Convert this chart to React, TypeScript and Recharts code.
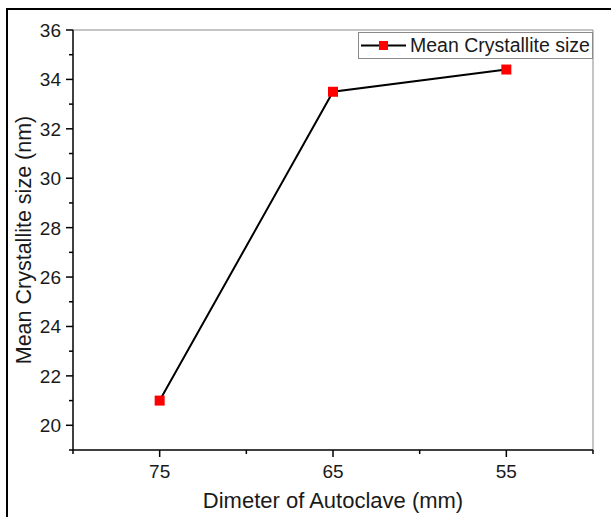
import React from "react";
import {
  LineChart,
  Line,
  XAxis,
  YAxis,
  Legend,
  ReferenceLine,
  Label,
} from "recharts";

const diameters = [75, 65, 55];
const crystalliteSize = [21.0, 33.5, 34.4];

const xTicks = [80, 75, 70, 65, 60, 55, 50];
const xLabeled = [75, 65, 55];
const yTicks = [19, 20, 21, 22, 23, 24, 25, 26, 27, 28, 29, 30, 31, 32, 33, 34, 35, 36];

const data = diameters.map((d, i) => ({ diameter: d, size: crystalliteSize[i] }));

const FONT = "'Liberation Sans', Arial, sans-serif";
const TEXT = "#1a1a1a";

const XTick = (props: any) => {
  const { x, y, payload } = props;
  const major = xLabeled.includes(payload.value);
  return (
    <g>
      <line x1={x} y1={y} x2={x} y2={y + (major ? 7 : 4)} stroke="#000" strokeWidth={1.5} />
      {major && (
        <text x={x} y={y + 28} textAnchor="middle" fontSize={19} fill={TEXT} fontFamily={FONT}>
          {payload.value}
        </text>
      )}
    </g>
  );
};

const YTick = (props: any) => {
  const { x, y, payload } = props;
  const major = payload.value % 2 === 0;
  return (
    <g>
      <line x1={x} y1={y} x2={x - (major ? 7 : 4)} y2={y} stroke="#000" strokeWidth={1.5} />
      {major && (
        <text x={x - 12} y={y + 7} textAnchor="end" fontSize={19} fill={TEXT} fontFamily={FONT}>
          {payload.value}
        </text>
      )}
    </g>
  );
};

const Square = (props: any) => {
  const { cx, cy, index } = props;
  return <rect key={index} x={cx - 5} y={cy - 5} width={10} height={10} fill="#ff0000" />;
};

const LegendBox = () => (
  <div
    style={{
      width: 233,
      height: 25,
      border: "1px solid #8a8a8a",
      background: "#fff",
      display: "flex",
      alignItems: "center",
      fontFamily: FONT,
      fontSize: 19.5,
      color: TEXT,
    }}
  >
    <svg width={50} height={25}>
      <line x1={2} y1={12.5} x2={47} y2={12.5} stroke="#000" strokeWidth={2} />
      <rect x={20} y={8} width={9} height={9} fill="#ff0000" />
    </svg>
    <span style={{ marginLeft: 1 }}>Mean Crystallite size</span>
  </div>
);

export default function App() {
  return (
    <div style={{ position: "absolute", left: 0, top: 0, width: 611, height: 517, background: "#fff" }}>
      <div
        style={{
          position: "absolute",
          left: 6,
          top: 8,
          right: 0,
          bottom: 0,
          borderLeft: "2px solid #000",
          borderTop: "2px solid #000",
        }}
      />
      <div style={{ position: "absolute", left: 0, top: 0 }}>
        <LineChart width={611} height={517} data={data} margin={{ top: 30, right: 18, left: 23, bottom: 0 }}>
          <XAxis
            dataKey="diameter"
            type="number"
            domain={[50, 80]}
            reversed
            ticks={xTicks}
            interval={0}
            height={67}
            tickSize={0}
            tickMargin={0}
            tickLine={false}
            tick={<XTick />}
            axisLine={{ stroke: "#000", strokeWidth: 1.5 }}
          >
            <Label
              content={(p: any) => {
                const vb = p.viewBox;
                return (
                  <text
                    x={vb.x + vb.width / 2}
                    y={vb.y + 58}
                    textAnchor="middle"
                    fontSize={22}
                    fill={TEXT}
                    fontFamily={FONT}
                  >
                    Dimeter of Autoclave (mm)
                  </text>
                );
              }}
            />
          </XAxis>
          <YAxis
            type="number"
            domain={[19, 36]}
            ticks={yTicks}
            interval={0}
            width={50}
            tickSize={0}
            tickMargin={0}
            tickLine={false}
            tick={<YTick />}
            axisLine={{ stroke: "#000", strokeWidth: 1.5 }}
          >
            <Label
              content={(p: any) => {
                const vb = p.viewBox;
                const cx = vb.x + 1;
                const cy = vb.y + vb.height / 2;
                return (
                  <text
                    x={cx}
                    y={cy}
                    transform={`rotate(-90 ${cx} ${cy})`}
                    textAnchor="middle"
                    dominantBaseline="central"
                    fontSize={21.5}
                    fill={TEXT}
                    fontFamily={FONT}
                  >
                    Mean Crystallite size (nm)
                  </text>
                );
              }}
            />
          </YAxis>
          <ReferenceLine y={36} stroke="#8a8a8a" strokeWidth={1} />
          <ReferenceLine x={50} stroke="#8a8a8a" strokeWidth={1} />
          <Legend
            layout="vertical"
            align="center"
            verticalAlign="middle"
            content={<LegendBox />}
            wrapperStyle={{ top: 32, left: 358, width: 235, height: 27 }}
          />
          <Line
            dataKey="size"
            stroke="#000"
            strokeWidth={2}
            dot={<Square />}
            activeDot={false}
            isAnimationActive={false}
            legendType="none"
          />
        </LineChart>
      </div>
    </div>
  );
}
